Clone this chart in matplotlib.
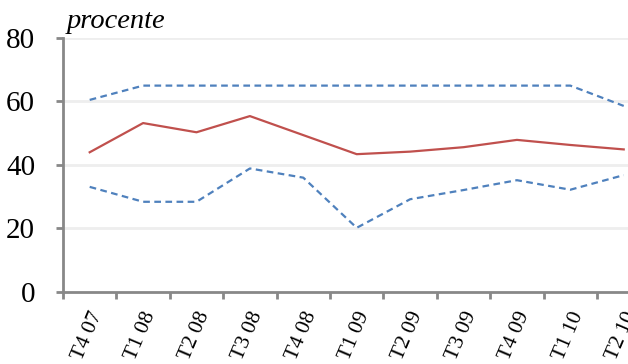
import matplotlib
matplotlib.use("Agg")
import matplotlib.pyplot as plt
import matplotlib.transforms as mtransforms
import numpy as np

quarters = ["T4 07", "T1 08", "T2 08", "T3 08", "T4 08", "T1 09",
            "T2 09", "T3 09", "T4 09", "T1 10", "T2 10"]
upper = [60.5, 65, 65, 65, 65, 65, 65, 65, 65, 65, 58.6]
central = [44.0, 53.2, 50.3, 55.4, 49.4, 43.4, 44.2, 45.6, 47.9, 46.3, 44.9]
lower = [33.1, 28.4, 28.4, 38.9, 36.0, 20.2, 29.2, 32.1, 35.2, 32.2, 36.8]
yticks = [0, 20, 40, 60, 80]

plt.rcParams["font.family"] = ["Liberation Serif", "DejaVu Serif"]

fig = plt.figure(figsize=(6.28, 3.64), dpi=100)
ax = fig.add_axes([0.1003, 0.198, 0.8997, 0.6976])

x = np.arange(len(quarters))
blue = "#4F81BD"
red = "#C0504D"
ax.plot(x, upper, color=blue, lw=1.6, dashes=(3, 2))
ax.plot(x, lower, color=blue, lw=1.6, dashes=(3, 2))
ax.plot(x, central, color=red, lw=1.6)

ax.set_ylim(0, 80)
ax.set_xlim(-0.5, 10.08)
ax.set_yticks(yticks)
ax.set_yticklabels([str(v) for v in yticks], fontsize=21)
for v in yticks[1:]:
    ax.axhline(v, color="#EEEEEE", lw=2, zorder=0)

# category boundaries carry the tick marks, labels sit between them
ax.set_xticks(np.arange(-0.5, 10.5, 1.0))
ax.set_xticklabels([])
ax.set_xticks(x, minor=True)
ax.set_xticklabels(quarters, minor=True, fontsize=15.5, rotation=67,
                   ha="right", va="center", rotation_mode="anchor")
ax.tick_params(axis="x", which="minor", length=0, pad=15)
ax.tick_params(axis="x", which="major", length=5, width=2, color="#888888",
               direction="out")
ax.tick_params(axis="y", length=5, width=2, color="#888888", pad=15)
offset = mtransforms.ScaledTranslation(8 / 100, 0, fig.dpi_scale_trans)
for lab in ax.get_xticklabels(minor=True):
    lab.set_transform(lab.get_transform() + offset)

for side in ("top", "right"):
    ax.spines[side].set_visible(False)
for side in ("left", "bottom"):
    ax.spines[side].set_color("#888888")
    ax.spines[side].set_linewidth(2)

fig.text(67 / 628, 1 - 21 / 364, "procente", fontsize=20.5, style="italic",
         va="center", ha="left")

fig.savefig("out.png", dpi=100)
